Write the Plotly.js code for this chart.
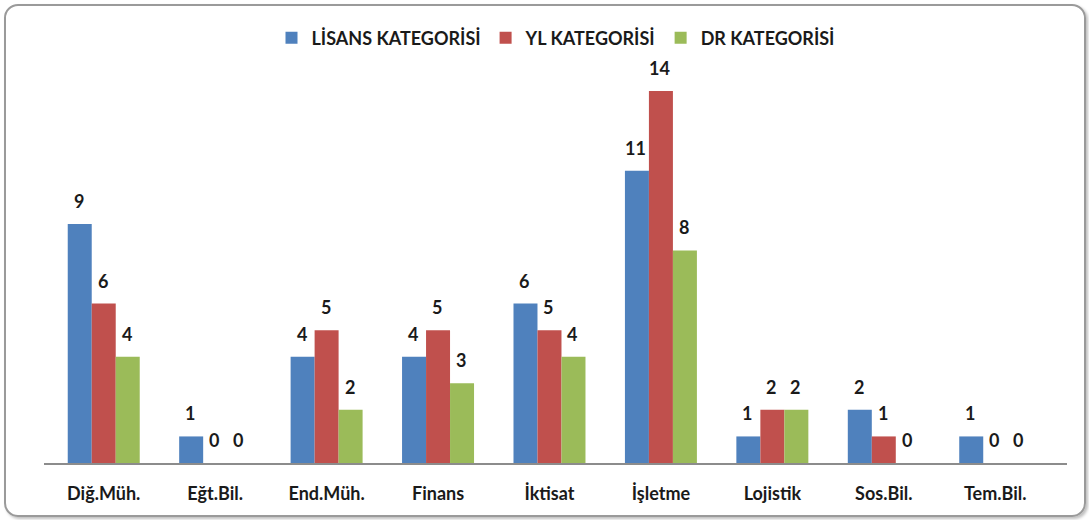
<!DOCTYPE html>
<html>
<head>
<meta charset="utf-8">
<script src="https://cdn.plot.ly/plotly-3.0.1.min.js"></script>
<style>
  html, body { margin: 0; padding: 0; background: #ffffff; }
  #wrap { position: absolute; left: 4px; top: 4px; width: 1078px; height: 509px;
          border: 2px solid #9a9a9a; border-radius: 14px; box-shadow: 2px 2px 3px rgba(0,0,0,0.25); }
  #chart { position: absolute; left: 0; top: 0; width: 1089px; height: 520px; }
</style>
</head>
<body>
<div id="wrap"></div>
<div id="chart"></div>
<script>
const categories = ["Diğ.Müh.", "Eğt.Bil.", "End.Müh.", "Finans", "İktisat", "İşletme", "Lojistik", "Sos.Bil.", "Tem.Bil."];
const seriesNames = ["LİSANS KATEGORİSİ", "YL KATEGORİSİ", "DR KATEGORİSİ"];
const lisans = [9, 1, 4, 4, 6, 11, 1, 2, 1];
const yl = [6, 0, 5, 5, 5, 14, 2, 1, 0];
const dr = [4, 0, 2, 3, 4, 8, 2, 0, 0];
const colors = ["#4F81BD", "#C0504D", "#9BBB59"];

const allSeries = [lisans, yl, dr];
const FONT = "Lato, 'Open Sans', sans-serif";

const traces = allSeries.map((vals, i) => ({
  type: "bar",
  name: seriesNames[i],
  x: categories,
  y: vals,
  marker: { color: colors[i], line: { width: 0 } },
  hoverinfo: "none"
}));

const annotations = [];
allSeries.forEach((vals, i) => {
  vals.forEach((v, j) => {
    annotations.push({
      x: categories[j], y: v, xref: "x", yref: "y",
      text: String(v), showarrow: false,
      xanchor: "center", yanchor: "bottom",
      xshift: (i - 1) * 24 - 1, yshift: 10,
      font: { family: FONT, size: 18, color: "#1a1a1a", weight: "bold" }
    });
  });
});

const layout = {
  width: 1089, height: 520,
  paper_bgcolor: "rgba(0,0,0,0)", plot_bgcolor: "rgba(0,0,0,0)",
  margin: { l: 44, r: 22, t: 60, b: 57 },
  barmode: "group", bargap: 0.354, bargroupgap: 0,
  showlegend: true,
  legend: {
    orientation: "h", x: 0.5, xanchor: "center", y: 1.0546, yanchor: "middle",
    font: { family: FONT, size: 18, color: "#1a1a1a", weight: "bold" },
    itemwidth: 20, traceorder: "normal"
  },
  xaxis: {
    type: "category", range: [-0.536, 8.644],
    showline: true, linecolor: "#8c8c8c", linewidth: 2,
    showgrid: false, zeroline: false,
    ticks: "outside", ticklen: 13, tickcolor: "rgba(0,0,0,0)",
    tickfont: { family: FONT, size: 18, color: "#1a1a1a", weight: "bold" },
    fixedrange: true
  },
  yaxis: {
    range: [0, 15.17], visible: false, showgrid: false, zeroline: false, fixedrange: true
  },
  annotations: annotations
};

Plotly.newPlot("chart", traces, layout, { displayModeBar: false, staticPlot: true });
</script>
</body>
</html>
